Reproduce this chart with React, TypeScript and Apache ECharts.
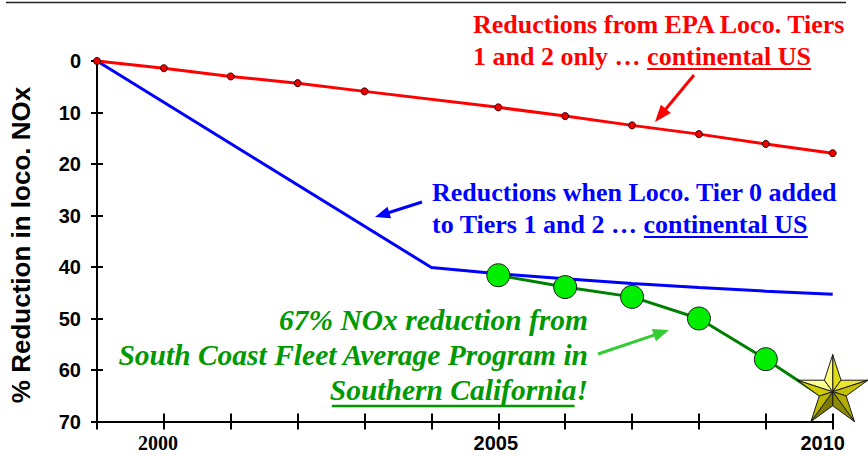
import React, { useEffect, useRef } from "react";
import * as echarts from "echarts";

// ---- data ----
const YEARS = [1999, 2000, 2001, 2002, 2003, 2004, 2005, 2006, 2007, 2008, 2009, 2010];
const EPA_TIERS_1_2 = [0, 1.4, 3.0, 4.3, 5.9, null, 9.0, 10.7, 12.5, 14.2, 16.1, 17.9];
const WITH_TIER_0 = [0, null, null, null, null, 40.1, 41.3, 42.3, 43.2, 44.0, 44.7, 45.3];
const SOUTH_COAST = [null, null, null, null, null, null, 41.6, 43.9, 45.8, 50.0, 57.9, 66.5];
const STAR_POINT = [2010, 64.2];
const X_LABELED = [2000, 2005, 2010];
const Y_MIN = 0;
const Y_MAX = 70;
const Y_STEP = 10;

const SERIF = "'Liberation Serif', 'Times New Roman', Times, serif";
const SANS = "'Liberation Sans', Arial, Helvetica, sans-serif";

function pairs(vals: (number | null)[]) {
  const out: number[][] = [];
  vals.forEach((v, i) => {
    if (v !== null) out.push([YEARS[i], v]);
  });
  return out;
}

let measureCtx: CanvasRenderingContext2D | null = null;
function textWidth(t: string, font: string) {
  if (!measureCtx) measureCtx = document.createElement("canvas").getContext("2d");
  measureCtx!.font = font;
  return measureCtx!.measureText(t).width;
}

function arrow(x1: number, y1: number, x2: number, y2: number, color: string, w: number, hl: number, hw: number) {
  const dx = x2 - x1, dy = y2 - y1;
  const len = Math.sqrt(dx * dx + dy * dy);
  const ux = dx / len, uy = dy / len;
  const bx = x2 - ux * hl, by = y2 - uy * hl;
  const px = -uy, py = ux;
  return [
    { type: "line", shape: { x1, y1, x2: bx + ux * 1, y2: by + uy * 1 }, style: { stroke: color, lineWidth: w } },
    {
      type: "polygon",
      shape: { points: [[x2, y2], [bx + px * hw / 2, by + py * hw / 2], [bx - px * hw / 2, by - py * hw / 2]] },
      style: { fill: color },
    },
  ];
}

function buildGraphics() {
  const g: any[] = [];
  // top rule
  g.push({ type: "line", shape: { x1: 6, y1: 2.5, x2: 846, y2: 2.5 }, style: { stroke: "#222", lineWidth: 1.5 } });
  // y axis title
  g.push({
    type: "text",
    x: 21,
    y: 245,
    rotation: Math.PI / 2,
    style: {
      text: "% Reduction in loco. NOx",
      font: `bold 26px ${SANS}`,
      fill: "#000",
      align: "center",
      verticalAlign: "middle",
    },
  });

  // Red annotation (left aligned)
  const redFont = `bold 26px ${SERIF}`;
  const red = "#ff0000";
  const rx = 473;
  g.push({ type: "text", x: rx, y: 24.5, style: { text: "Reductions from EPA Loco. Tiers", font: redFont, fill: red, align: "left", verticalAlign: "middle" } });
  const rPre = "1 and 2 only \u2026 ";
  const rU = "continental US";
  g.push({ type: "text", x: rx, y: 56, style: { text: rPre + rU, font: redFont, fill: red, align: "left", verticalAlign: "middle" } });
  const rs = rx + textWidth(rPre, redFont);
  const re = rx + textWidth(rPre + rU, redFont);
  g.push({ type: "line", shape: { x1: rs, y1: 69, x2: re, y2: 69 }, style: { stroke: red, lineWidth: 2 } });
  g.push(...arrow(694, 75, 655, 122, red, 3, 17, 13));

  // Blue annotation
  const blue = "#0000ff";
  const bx = 432;
  g.push({ type: "text", x: bx, y: 192, style: { text: "Reductions when Loco. Tier 0 added", font: redFont, fill: blue, align: "left", verticalAlign: "middle" } });
  const bPre = "to Tiers 1 and 2 \u2026 ";
  const bU = "continental US";
  g.push({ type: "text", x: bx, y: 224, style: { text: bPre + bU, font: redFont, fill: blue, align: "left", verticalAlign: "middle" } });
  const bs = bx + textWidth(bPre, redFont);
  const be = bx + textWidth(bPre + bU, redFont);
  g.push({ type: "line", shape: { x1: bs, y1: 237, x2: be, y2: 237 }, style: { stroke: blue, lineWidth: 2 } });
  g.push(...arrow(422, 202, 375, 217, blue, 3, 15, 12));

  // Green annotation (right aligned)
  const green = "#009900";
  const gFont = `italic bold 29.5px ${SERIF}`;
  const gx = 588;
  g.push({ type: "text", x: gx, y: 319.5, style: { text: "67% NOx reduction from", font: gFont, fill: green, align: "right", verticalAlign: "middle" } });
  g.push({ type: "text", x: gx, y: 355, style: { text: "South Coast Fleet Average Program in", font: gFont, fill: green, align: "right", verticalAlign: "middle" } });
  const gU = "Southern California";
  const gEnd = "!";
  g.push({ type: "text", x: gx, y: 390, style: { text: gU + gEnd, font: gFont, fill: green, align: "right", verticalAlign: "middle" } });
  const ge = gx - textWidth(gEnd, gFont);
  const gs = gx - textWidth(gU + gEnd, gFont);
  g.push({ type: "line", shape: { x1: gs + 2, y1: 406, x2: ge - 2, y2: 406 }, style: { stroke: green, lineWidth: 2.5 } });
  g.push(...arrow(598, 354, 669, 330, "#33cc33", 3, 16, 13));
  return g;
}

const STAR_COLORS = ["#e0dc10", "#e8e430", "#c4c000", "#b0ac00", "#8c8a00", "#7c7a00", "#bcb800", "#cfcb00", "#ffff90", "#ffff80"];

export default function App() {
  const ref = useRef<HTMLDivElement>(null);
  useEffect(() => {
    const chart = echarts.init(ref.current!, null, { renderer: "svg" });
    const axisLineStyle = { color: "#000", width: 2 };
    const xBase = {
      type: "value",
      min: YEARS[0],
      max: YEARS[YEARS.length - 1],
      interval: 1,
      position: "bottom",
      splitLine: { show: false },
    };
    const yBase = {
      type: "value",
      min: Y_MIN,
      max: Y_MAX,
      interval: Y_STEP,
      inverse: true,
      position: "left",
      splitLine: { show: false },
    };
    chart.setOption({
      animation: false,
      backgroundColor: "#fff",
      grid: { left: 97, right: 35.3, top: 61, bottom: 34.5, containLabel: false, outerBoundsMode: "none" },
      xAxis: [
        {
          ...xBase,
          axisLine: { show: true, lineStyle: axisLineStyle, onZero: false },
          axisTick: { show: true, length: 8, lineStyle: { color: "#000", width: 2 } },
          axisLabel: {
            margin: 11,
            formatter: (v: number) => {
              if (!X_LABELED.includes(v)) return "";
              if (v === X_LABELED[0]) return `{s|${v}}`;
              if (v === X_LABELED[2]) return `{e|${v}}`;
              return `{m|${v}}`;
            },
            rich: {
              s: { fontFamily: "Liberation Serif", fontWeight: "bold", fontSize: 20, color: "#000", padding: [0, 12, 0, 0] },
              m: { fontFamily: "Liberation Sans", fontWeight: "bold", fontSize: 20, color: "#000", padding: [0, 5, 0, 0] },
              e: { fontFamily: "Liberation Sans", fontWeight: "bold", fontSize: 20, color: "#000", padding: [0, 20, 0, 0] },
            },
          },
        },
        {
          ...xBase,
          axisLine: { show: false, onZero: false },
          axisTick: { show: true, inside: true, length: 8, lineStyle: { color: "#000", width: 2 } },
          axisLabel: { show: false },
        },
      ],
      yAxis: [
        {
          ...yBase,
          axisLine: { show: true, lineStyle: axisLineStyle, onZero: false },
          axisTick: { show: true, length: 6, lineStyle: { color: "#000", width: 2 } },
          axisLabel: { margin: 16, fontFamily: SANS, fontWeight: "bold", fontSize: 20, color: "#000" },
        },
        {
          ...yBase,
          axisLine: { show: false, onZero: false },
          axisTick: { show: true, inside: true, length: 6, lineStyle: { color: "#000", width: 2 } },
          axisLabel: { show: false },
        },
      ],
      series: [
        {
          type: "line",
          name: "EPA Tiers 1 and 2",
          data: pairs(EPA_TIERS_1_2),
          lineStyle: { color: "#ff0000", width: 3 },
          symbol: "circle",
          symbolSize: 7,
          itemStyle: { color: "#ee0000", borderColor: "#330000", borderWidth: 1 },
          z: 3,
        },
        {
          type: "line",
          name: "Tier 0 added",
          data: pairs(WITH_TIER_0),
          lineStyle: { color: "#0000ff", width: 3 },
          showSymbol: false,
          symbol: "none",
          z: 2,
        },
        {
          type: "line",
          name: "South Coast",
          data: pairs(SOUTH_COAST).map((p, i, arr) =>
            i === arr.length - 1 ? { value: p, symbol: "none" } : { value: p }
          ),
          lineStyle: { color: "#008000", width: 3 },
          symbol: "circle",
          symbolSize: 23,
          itemStyle: { color: "#00ee00", borderColor: "#1a1a1a", borderWidth: 1 },
          z: 4,
        },
        {
          type: "custom",
          name: "star",
          clip: false,
          z: 5,
          data: [STAR_POINT],
          renderItem: (params: any, api: any) => {
            const c = api.coord([api.value(0), api.value(1)]);
            const R = 37;
            const r = R * 0.382;
            const pts: number[][] = [];
            for (let i = 0; i < 10; i++) {
              const a = ((-90 + i * 36) * Math.PI) / 180;
              const rad = i % 2 === 0 ? R : r;
              pts.push([c[0] + rad * Math.cos(a), c[1] + rad * Math.sin(a)]);
            }
            const children = [];
            for (let k = 0; k < 10; k++) {
              children.push({
                type: "polygon",
                shape: { points: [c, pts[k], pts[(k + 1) % 10]] },
                style: { fill: STAR_COLORS[k], stroke: "#1a1a1a", lineWidth: 1, lineJoin: "round" },
              });
            }
            return { type: "group", children };
          },
        },
      ],
      graphic: buildGraphics(),
    });
    return () => chart.dispose();
  }, []);
  return <div ref={ref} style={{ position: "fixed", left: 0, top: 0, width: 868, height: 456 }} />;
}
